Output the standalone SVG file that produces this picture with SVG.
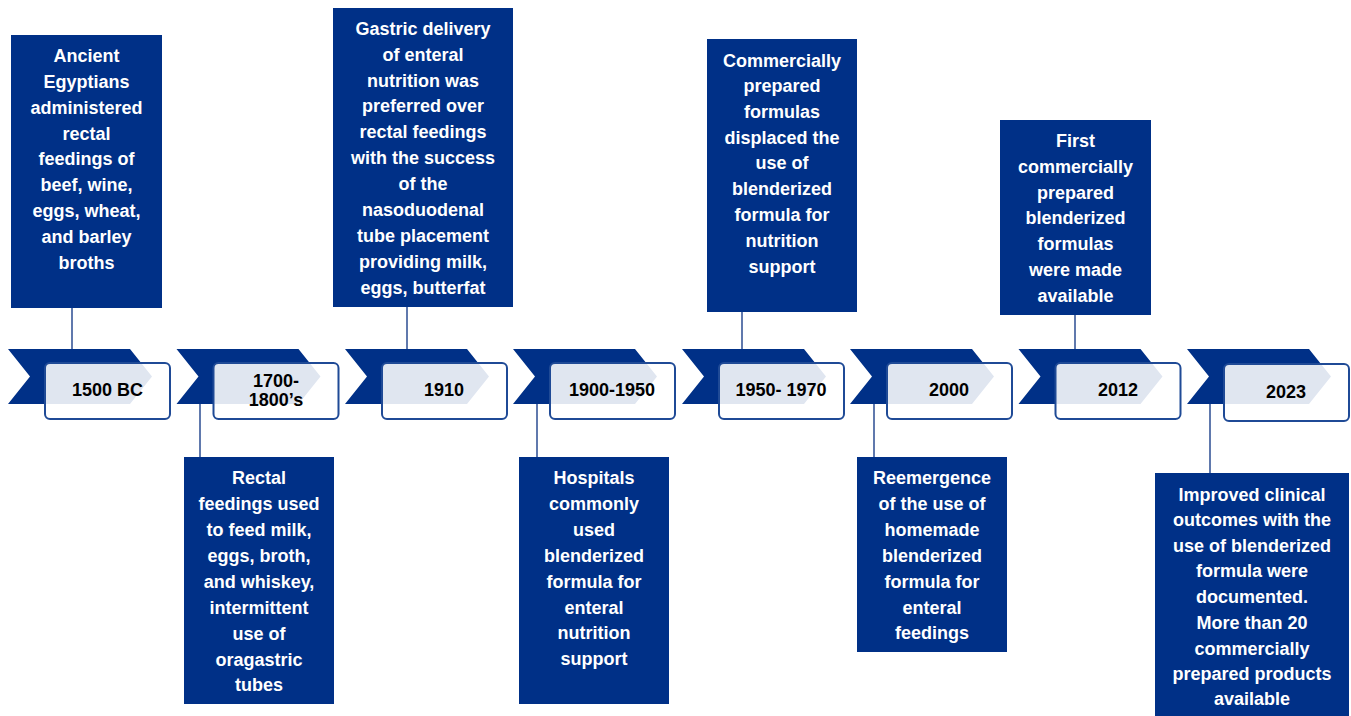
<svg xmlns="http://www.w3.org/2000/svg" width="1351" height="716" viewBox="0 0 1351 716">
<style>
.box{fill:#003087}
.chev{fill:#003087}
.yr{fill:#ffffff;fill-opacity:0.88;stroke:#1F4A96;stroke-width:2}
.t{font-family:"Liberation Sans",Arial,sans-serif;font-weight:bold;font-size:18px;fill:#ffffff;text-anchor:middle}
.y{font-family:"Liberation Sans",Arial,sans-serif;font-weight:bold;font-size:18px;fill:#000000;text-anchor:middle}
.c{stroke:#2B4C92;stroke-width:1.5;fill:none}
</style>
<defs>
<path id="chev" d="M0,349 L122,349 L144,376.5 L122,404 L0,404 L22,376.5 Z"/>
</defs>
<rect width="1351" height="716" fill="#ffffff"/>
<g id="connectors">
<line class="c" x1="72" y1="308" x2="72" y2="349"/>
<line class="c" x1="200" y1="404" x2="200" y2="457"/>
<line class="c" x1="407" y1="307" x2="407" y2="349"/>
<line class="c" x1="537" y1="404" x2="537" y2="457"/>
<line class="c" x1="742" y1="312" x2="742" y2="349"/>
<line class="c" x1="874" y1="404" x2="874" y2="457"/>
<line class="c" x1="1075" y1="315" x2="1075" y2="349"/>
<line class="c" x1="1210" y1="404" x2="1210" y2="473"/>
</g>
<g id="timeline">
<g id="m1500"><use href="#chev" class="chev" x="8"/><rect class="yr" x="45" y="363" width="125" height="56" rx="5"/><text class="y" x="107.5" y="396">1500 BC</text></g>
<g id="m1700"><use href="#chev" class="chev" x="176.5"/><rect class="yr" x="213.5" y="363" width="125" height="56" rx="5"/><text class="y" x="276" y="387">1700-</text><text class="y" x="276" y="406">1800’s</text></g>
<g id="m1910"><use href="#chev" class="chev" x="345"/><rect class="yr" x="382" y="363" width="125" height="56" rx="5"/><text class="y" x="444" y="396">1910</text></g>
<g id="m1900"><use href="#chev" class="chev" x="513"/><rect class="yr" x="550" y="363" width="125" height="56" rx="5"/><text class="y" x="612" y="396">1900-1950</text></g>
<g id="m1950"><use href="#chev" class="chev" x="682"/><rect class="yr" x="719" y="363" width="125" height="56" rx="5"/><text class="y" x="781" y="396">1950- 1970</text></g>
<g id="m2000"><use href="#chev" class="chev" x="850"/><rect class="yr" x="887" y="363" width="125" height="56" rx="5"/><text class="y" x="949" y="396">2000</text></g>
<g id="m2012"><use href="#chev" class="chev" x="1018.5"/><rect class="yr" x="1055.5" y="363" width="125" height="56" rx="5"/><text class="y" x="1118" y="396">2012</text></g>
<g id="m2023"><use href="#chev" class="chev" x="1187"/><rect class="yr" x="1224" y="364" width="125" height="57" rx="5"/><text class="y" x="1286" y="398">2023</text></g>
</g>
<g id="box1500">
<rect class="box" x="11" y="35" width="151" height="273"/>
<text class="t" x="86.5"><tspan x="86.5" y="62">Ancient</tspan><tspan x="86.5" y="88">Egyptians</tspan><tspan x="86.5" y="114">administered</tspan><tspan x="86.5" y="140">rectal</tspan><tspan x="86.5" y="165">feedings of</tspan><tspan x="86.5" y="191">beef, wine,</tspan><tspan x="86.5" y="217">eggs, wheat,</tspan><tspan x="86.5" y="243">and barley</tspan><tspan x="86.5" y="269">broths</tspan></text>
</g>
<g id="box1910">
<rect class="box" x="333" y="8" width="180" height="299"/>
<text class="t"><tspan x="423" y="35">Gastric delivery</tspan><tspan x="423" y="61">of enteral</tspan><tspan x="423" y="87">nutrition was</tspan><tspan x="423" y="112">preferred over</tspan><tspan x="423" y="138">rectal feedings</tspan><tspan x="423" y="164">with the success</tspan><tspan x="423" y="190">of the</tspan><tspan x="423" y="216">nasoduodenal</tspan><tspan x="423" y="242">tube placement</tspan><tspan x="423" y="268">providing milk,</tspan><tspan x="423" y="294">eggs, butterfat</tspan></text>
</g>
<g id="box1950">
<rect class="box" x="707" y="39" width="150" height="273"/>
<text class="t"><tspan x="782" y="67">Commercially</tspan><tspan x="782" y="92">prepared</tspan><tspan x="782" y="118">formulas</tspan><tspan x="782" y="144">displaced the</tspan><tspan x="782" y="169">use of</tspan><tspan x="782" y="195">blenderized</tspan><tspan x="782" y="221">formula for</tspan><tspan x="782" y="247">nutrition</tspan><tspan x="782" y="273">support</tspan></text>
</g>
<g id="box2012">
<rect class="box" x="1000" y="120" width="151" height="195"/>
<text class="t"><tspan x="1075.5" y="147">First</tspan><tspan x="1075.5" y="173">commercially</tspan><tspan x="1075.5" y="199">prepared</tspan><tspan x="1075.5" y="224">blenderized</tspan><tspan x="1075.5" y="250">formulas</tspan><tspan x="1075.5" y="276">were made</tspan><tspan x="1075.5" y="302">available</tspan></text>
</g>
<g id="box1700">
<rect class="box" x="184" y="457" width="150" height="247"/>
<text class="t"><tspan x="259" y="484">Rectal</tspan><tspan x="259" y="510">feedings used</tspan><tspan x="259" y="536">to feed milk,</tspan><tspan x="259" y="562">eggs, broth,</tspan><tspan x="259" y="588">and whiskey,</tspan><tspan x="259" y="614">intermittent</tspan><tspan x="259" y="640">use of</tspan><tspan x="259" y="666">oragastric</tspan><tspan x="259" y="691">tubes</tspan></text>
</g>
<g id="box1900">
<rect class="box" x="519" y="457" width="150" height="247"/>
<text class="t"><tspan x="594" y="484">Hospitals</tspan><tspan x="594" y="510">commonly</tspan><tspan x="594" y="536">used</tspan><tspan x="594" y="562">blenderized</tspan><tspan x="594" y="588">formula for</tspan><tspan x="594" y="614">enteral</tspan><tspan x="594" y="639">nutrition</tspan><tspan x="594" y="665">support</tspan></text>
</g>
<g id="box2000">
<rect class="box" x="857" y="457" width="150" height="195"/>
<text class="t"><tspan x="932" y="484">Reemergence</tspan><tspan x="932" y="510">of the use of</tspan><tspan x="932" y="536">homemade</tspan><tspan x="932" y="562">blenderized</tspan><tspan x="932" y="588">formula for</tspan><tspan x="932" y="614">enteral</tspan><tspan x="932" y="639">feedings</tspan></text>
</g>
<g id="box2023">
<rect class="box" x="1155" y="473" width="194" height="243"/>
<text class="t"><tspan x="1252" y="501">Improved clinical</tspan><tspan x="1252" y="526">outcomes with the</tspan><tspan x="1252" y="552">use of blenderized</tspan><tspan x="1252" y="577">formula were</tspan><tspan x="1252" y="603">documented.</tspan><tspan x="1252" y="629">More than 20</tspan><tspan x="1252" y="655">commercially</tspan><tspan x="1252" y="680">prepared products</tspan><tspan x="1252" y="705">available</tspan></text>
</g>
</svg>
